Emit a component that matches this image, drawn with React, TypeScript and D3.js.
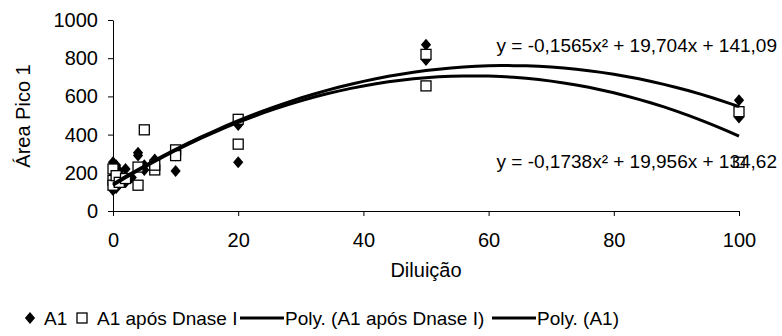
import * as d3 from "d3";
import React, { useRef, useEffect } from 'react'

// A1 (filled diamonds)
const a1X = [0, 0, 0, 0, 0.5, 0.5, 1, 1, 2, 2, 3, 4, 4, 5, 5, 6.67, 6.67, 10, 10, 20, 20, 50, 50, 100, 100]
const a1Y = [255, 200, 150, 110, 240, 120, 210, 140, 220, 150, 175, 305, 290, 215, 240, 270, 225, 290, 210, 450, 255, 870, 790, 580, 490]

// A1 após Dnase I (open squares)
const dnX = [0, 0, 0, 0.5, 1, 2, 4, 4, 5, 6.67, 6.67, 10, 10, 20, 20, 50, 50, 100, 100]
const dnY = [220, 160, 135, 185, 150, 170, 135, 230, 425, 215, 240, 320, 290, 480, 350, 820, 655, 520, 255]

// polynomial trendline coefficients as printed on the chart [a, b, c]
const polyA1 = [-0.1565, 19.704, 141.09]
const polyDn = [-0.1738, 19.956, 134.62]
const eqA1 = "y = -0,1565x² + 19,704x + 141,09"
const eqDn = "y = -0,1738x² + 19,956x + 134,62"

const xTicks = [0, 20, 40, 60, 80, 100]
const yTicks = [0, 200, 400, 600, 800, 1000]

const W = 782, H = 336
const m = { l: 113, r: 739, t: 20, b: 211 }
const FONT = "Arial, 'Liberation Sans', sans-serif"

const App: React.FC = () => {
  const gx = useRef(null)
  const gy = useRef(null)

  const x = d3.scaleLinear([0, 100], [m.l, m.r])
  const y = d3.scaleLinear([0, 1000], [m.b, m.t])

  const steps = d3.range(0, 100.001, 2)
  const curve = (c: number[]) => steps.map((v) => [v, c[0] * v * v + c[1] * v + c[2]] as [number, number])
  const line = d3.line<[number, number]>((d) => x(d[0]), (d) => y(d[1]))

  const diamond = (cx: number, cy: number, r = 6) => `M${cx},${cy - r}L${cx + r * 0.85},${cy}L${cx},${cy + r}L${cx - r * 0.85},${cy}Z`

  useEffect(() => {
    if (!gx.current) return
    const g = d3.select(gx.current as SVGGElement)
    g.call(d3.axisBottom(x).tickValues(xTicks).tickFormat(d3.format("d")).tickSize(5).tickSizeOuter(0).tickPadding(17))
    g.selectAll("text").attr("font-size", 20).attr("font-family", FONT).attr("fill", "#000")
    g.selectAll("line,path").attr("stroke", "#000")
  }, [gx])

  useEffect(() => {
    if (!gy.current) return
    const g = d3.select(gy.current as SVGGElement)
    g.call(d3.axisLeft(y).tickValues(yTicks).tickFormat(d3.format("d")).tickSize(5).tickSizeOuter(0).tickPadding(10))
    g.selectAll("text").attr("font-size", 20).attr("font-family", FONT).attr("fill", "#000")
    g.selectAll("line,path").attr("stroke", "#000")
  }, [gy])

  return (
    <svg width={W} height={H} style={{ position: "absolute", left: 0, top: 0, background: "#fff" }} fontFamily={FONT}>
      <rect width={W} height={H} fill="#fff" />
      <g ref={gy} transform={`translate(${m.l},0)`} />
      <g ref={gx} transform={`translate(0,${m.b})`} />

      {a1X.map((v, i) => <path key={"a" + i} d={diamond(x(v), y(a1Y[i]))} fill="#000" />)}
      {dnX.map((v, i) => <rect key={"d" + i} x={x(v) - 5} y={y(dnY[i]) - 5} width={10} height={10} fill="#fff" stroke="#000" strokeWidth={1.3} />)}

      <path d={line(curve(polyDn)) || ""} fill="none" stroke="#000" strokeWidth={3} />
      <path d={line(curve(polyA1)) || ""} fill="none" stroke="#000" strokeWidth={3} />

      <text x={777} y={52} fontSize={19} textAnchor="end">{eqA1}</text>
      <text x={777} y={168} fontSize={19} textAnchor="end">{eqDn}</text>

      <text transform="translate(30,116) rotate(-90)" fontSize={20} textAnchor="middle">Área Pico 1</text>
      <text x={426} y={277} fontSize={20} textAnchor="middle">Diluição</text>

      <g fontSize={19}>
        <path d={diamond(30, 318, 6)} fill="#000" />
        <text x={44} y={325}>A1</text>
        <rect x={77} y={313} width={10} height={10} fill="#fff" stroke="#000" strokeWidth={1.3} />
        <text x={97} y={325}>A1 após Dnase I</text>
        <line x1={240} x2={284} y1={318} y2={318} stroke="#000" strokeWidth={3} />
        <text x={285} y={325}>Poly. (A1 após Dnase I)</text>
        <line x1={492} x2={536} y1={318} y2={318} stroke="#000" strokeWidth={3} />
        <text x={537} y={325}>Poly. (A1)</text>
      </g>
    </svg>
  )
}

export default App
